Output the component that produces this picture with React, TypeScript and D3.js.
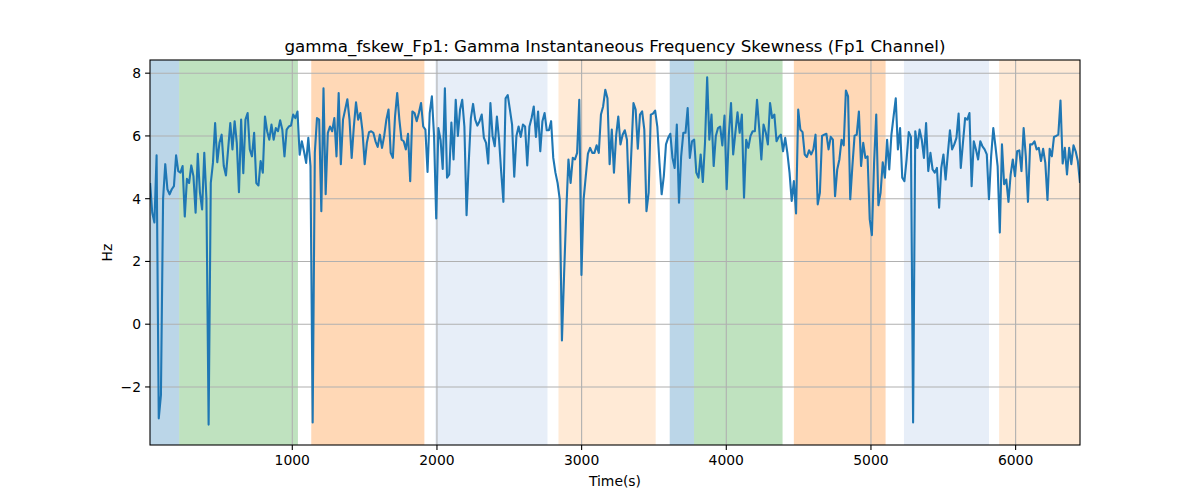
import React from "react";
import * as d3 from "d3";

// skewness values, one per sample
const values: number[] = [
  4.5, 3.55, 3.24, 5.38, -3.0, -2.26, 4.0, 5.1, 4.3, 4.14, 4.3, 4.4, 5.38, 4.88, 4.83, 5.04, 3.43, 4.63, 4.5, 5.06,
  4.72, 3.55, 5.43, 4.19, 3.66, 5.46, 4.0, -3.2, 4.5, 5.14, 6.41, 5.16, 5.78, 6.04, 5.04, 4.74, 5.57, 6.41, 5.57, 6.47,
  5.78, 4.21, 6.52, 4.81, 6.52, 6.73, 5.57, 5.35, 6.1, 4.5, 4.42, 5.2, 4.83, 6.62,
  6.15, 5.88, 6.36, 5.88, 6.25, 6.15, 6.5, 6.2, 5.35, 6.2, 6.3, 6.33, 6.68, 6.57, 6.78, 5.4, 5.83, 5.51, 5.14, 5.94,
  5.04, -3.13, 5.46, 6.57, 6.52, 3.6, 7.52, 4.14, 6.1, 6.3, 6.15, 6.57, 5.35, 7.37, 5.1, 6.52, 6.84, 7.17, 6.52, 5.3,
  6.3, 7.07, 6.52, 6.73, 6.15, 5.1, 5.78, 6.12, 6.15, 6.1, 5.83, 5.65, 6.04, 5.62, 6.0, 6.52,
  6.84, 5.46, 5.3, 6.62, 7.37, 6.52, 5.88, 5.83, 5.57, 6.07, 4.56, 6.78, 6.73, 6.47, 6.73, 7.05, 6.3, 6.2, 4.85, 6.73,
  7.26, 6.0, 3.37, 6.25, 5.88, 4.95, 7.52, 4.67, 4.77, 6.43, 5.25, 7.15, 6.0, 6.84, 7.15, 6.3, 3.47, 5.14, 6.57, 7.02,
  6.52, 6.33, 6.47, 6.68, 5.94, 5.78, 5.12, 7.05, 6.0, 5.67, 6.62, 5.88, 4.83, 3.9,
  7.2, 7.3, 6.84, 6.36, 4.7, 6.0, 6.3, 5.97, 6.36, 6.3, 5.06, 6.3, 6.57, 6.94, 5.97, 6.78, 5.51, 6.47, 6.73, 6.18,
  6.18, 6.47, 5.3, 4.83, 4.5, 3.98, -0.52, 1.6, 3.6, 5.25, 4.5, 5.3, 5.25, 5.46, 7.15, 1.57, 3.98, 4.72, 5.44, 5.62,
  5.46, 5.46, 5.7, 5.46, 6.68, 6.94, 7.47, 7.2, 5.1, 6.2, 4.83, 6.0, 6.62, 5.73,
  6.04, 6.18, 5.88, 3.87, 5.46, 7.05, 6.84, 5.59, 6.68, 6.78, 6.2, 3.6, 4.19, 6.68, 6.71, 6.81, 6.3, 5.14, 4.14, 4.72,
  5.73, 5.94, 6.07, 5.3, 4.98, 6.36, 3.87, 5.35, 6.1, 6.1, 6.89, 5.3, 5.83, 5.88, 4.83, 4.67, 5.41, 4.53, 5.78, 7.87,
  5.88, 6.68, 5.04, 6.0, 6.25, 6.3, 5.7, 6.65, 4.3, 6.04, 7.05, 5.41, 6.1, 6.75,
  6.1, 6.68, 4.03, 5.88, 5.62, 6.0, 6.15, 6.15, 7.15, 6.25, 5.25, 6.36, 6.12, 5.73, 7.05, 6.57, 6.68, 5.83, 5.97, 6.04,
  5.51, 5.94, 5.46, 4.83, 3.93, 4.56, 3.53, 6.84, 6.2, 6.12, 5.41, 5.33, 5.54, 5.41, 5.57, 6.04, 3.82, 4.19, 6.0, 6.04,
  6.07, 5.57, 5.97, 5.88, 4.08, 4.93, 5.25, 5.88, 5.7, 7.45, 7.26, 3.98, 5.04, 6.01, 6.04,
  6.78, 5.04, 5.78, 5.3, 5.35, 3.34, 2.84, 5.14, 6.68, 3.79, 4.19, 5.16, 4.67, 5.88, 4.93, 6.04, 6.62, 7.2, 5.57, 6.25,
  4.67, 4.56, 5.25, 6.12, 5.97, -3.13, 6.15, 5.62, 6.2, 5.88, 5.3, 6.41, 4.88, 5.46, 4.93, 4.83, 4.98, 3.71, 4.98, 5.41,
  4.61, 5.41, 6.18, 5.57, 5.73, 5.94, 6.71, 4.98, 5.78, 6.57, 6.52, 6.73, 4.4,
  5.83, 5.57, 5.25, 5.83, 5.67, 5.57, 5.41, 3.98, 5.35, 6.25, 5.67, 5.04, 2.92, 5.73, 4.46, 4.61, 3.9, 4.77, 5.25, 4.72,
  5.51, 5.54, 4.88, 6.25, 5.35, 3.9, 5.73, 5.73, 5.83, 5.57, 5.62, 5.2, 5.59, 5.14, 3.96, 5.59, 5.35, 5.97, 6.0, 6.04,
  7.13, 5.12, 5.62, 4.77, 5.62, 5.1, 5.7, 5.51, 5.2, 4.5,
];

const T_START = 17;
const T_END = 6445;

// shaded segments
const spanStart = [16, 218, 1131, 1989, 2840, 3609, 3777, 4467, 5228, 5886];
const spanEnd = [218, 1039, 1913, 2764, 3512, 3777, 4389, 5101, 5816, 6445];
const spanColor = ["#1f77b4", "#2ca02c", "#ff7f0e", "#aec7e8", "#ffbb78", "#1f77b4", "#2ca02c", "#ff7f0e", "#aec7e8", "#ffbb78"];

const xTicks = [1000, 2000, 3000, 4000, 5000, 6000];
const yTicks = [-2, 0, 2, 4, 6, 8];

const W = 1200;
const H = 500;
const m = { left: 150, right: 1080, top: 60, bottom: 445 };
const font = "DejaVu Sans, sans-serif";

export default function App() {
  const step = (T_END - T_START) / (values.length - 1);
  const times = values.map((_, i) => T_START + i * step);

  const x = d3.scaleLinear().domain([16.4, 6445]).range([m.left, m.right]);
  const y = d3.scaleLinear().domain([-3.85, 8.42]).range([m.bottom, m.top]);

  const line = d3
    .line<number>()
    .x((_, i) => x(times[i]))
    .y((d) => y(d));

  const fmt = (v: number) => (v < 0 ? "\u2212" + Math.abs(v) : String(v));

  return (
    <svg width={W} height={H} style={{ position: "absolute", left: 0, top: 0, background: "#fff" }}>
      <defs>
        <clipPath id="plot">
          <rect x={m.left} y={m.top} width={m.right - m.left} height={m.bottom - m.top} />
        </clipPath>
      </defs>

      <g clipPath="url(#plot)">
        {spanStart.map((s, i) => (
          <rect
            key={i}
            x={x(s)}
            y={m.top}
            width={x(spanEnd[i]) - x(s)}
            height={m.bottom - m.top}
            fill={spanColor[i]}
            fillOpacity={0.3}
          />
        ))}
        {xTicks.map((t) => (
          <line key={t} x1={x(t)} x2={x(t)} y1={m.top} y2={m.bottom} stroke="#b0b0b0" strokeWidth={1.1} />
        ))}
        {yTicks.map((t) => (
          <line key={t} x1={m.left} x2={m.right} y1={y(t)} y2={y(t)} stroke="#b0b0b0" strokeWidth={1.1} />
        ))}
        <path d={line(values) ?? ""} fill="none" stroke="#1f77b4" strokeWidth={2.1} strokeLinejoin="round" />
      </g>

      <rect
        x={m.left}
        y={m.top}
        width={m.right - m.left}
        height={m.bottom - m.top}
        fill="none"
        stroke="#000"
        strokeWidth={1.1}
      />

      {xTicks.map((t) => (
        <g key={t}>
          <line x1={x(t)} x2={x(t)} y1={m.bottom} y2={m.bottom + 4.9} stroke="#000" strokeWidth={1.1} />
          <text x={x(t)} y={m.bottom + 20} textAnchor="middle" fontFamily={font} fontSize={13.9}>
            {fmt(t)}
          </text>
        </g>
      ))}
      {yTicks.map((t) => (
        <g key={t}>
          <line x1={m.left - 4.9} x2={m.left} y1={y(t)} y2={y(t)} stroke="#000" strokeWidth={1.1} />
          <text x={m.left - 9} y={y(t)} dy="0.35em" textAnchor="end" fontFamily={font} fontSize={13.9}>
            {fmt(t)}
          </text>
        </g>
      ))}

      <text x={(m.left + m.right) / 2} y={486} textAnchor="middle" fontFamily={font} fontSize={13.9}>
        Time(s)
      </text>
      <text
        transform={`translate(112, ${(m.top + m.bottom) / 2}) rotate(-90)`}
        textAnchor="middle"
        fontFamily={font}
        fontSize={13.9}
      >
        Hz
      </text>
      <text x={(m.left + m.right) / 2} y={52} textAnchor="middle" fontFamily={font} fontSize={16.7}>
        gamma_fskew_Fp1: Gamma Instantaneous Frequency Skewness (Fp1 Channel)
      </text>
    </svg>
  );
}
